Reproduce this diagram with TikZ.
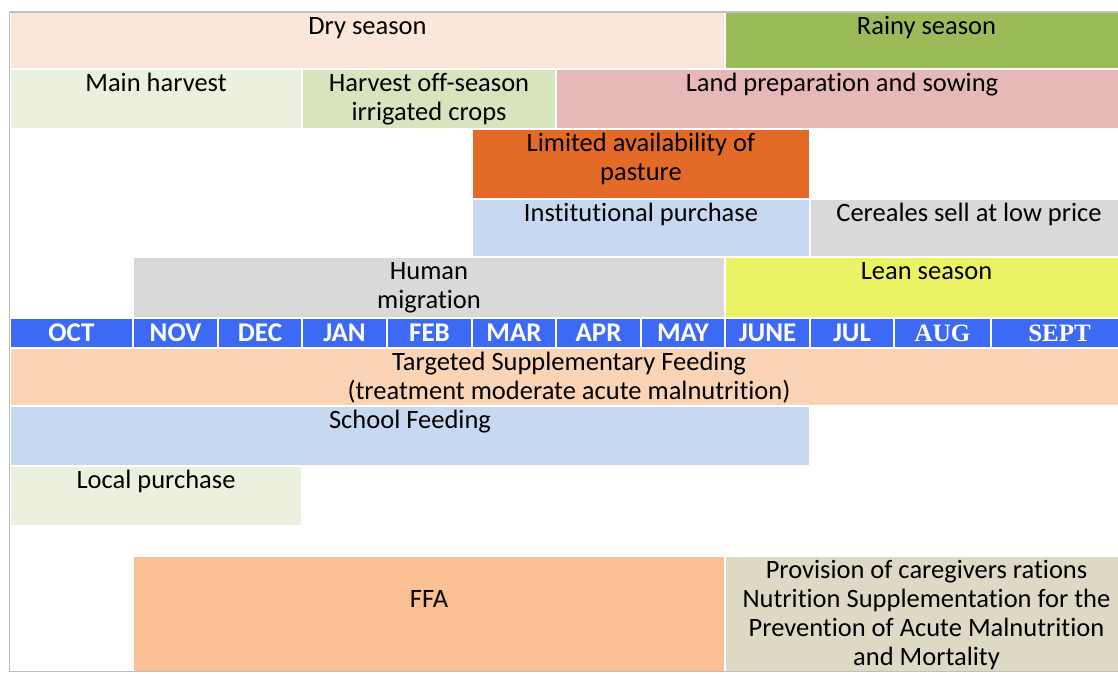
\documentclass[tikz,border=0pt]{standalone}
\usepackage{fontspec}
\setmainfont{Carlito}[Ligatures=NoCommon]
\newfontfamily\serifmonth{Liberation Serif}
\pgfdeclarelayer{celllayer}
\pgfdeclarelayer{textlayer}
\pgfsetlayers{celllayer,main,textlayer}
\definecolor{dryseason}{HTML}{FBE6D9}
\definecolor{rainyseason}{HTML}{9BBB59}
\definecolor{mainharvest}{HTML}{EBF1DE}
\definecolor{offseason}{HTML}{D7E4BD}
\definecolor{landprep}{HTML}{E6B8B7}
\definecolor{pasture}{HTML}{E46A27}
\definecolor{purchase}{HTML}{C6D9F0}
\definecolor{greycell}{HTML}{D9D9D9}
\definecolor{leanseason}{HTML}{EAF363}
\definecolor{monthblue}{HTML}{3D6AF5}
\definecolor{tsf}{HTML}{FBD4B6}
\definecolor{ffa}{HTML}{FABF93}
\definecolor{caregiver}{HTML}{DDD9C4}
\tikzstyle{cell}=[rectangle,anchor=north west,draw=white,line width=1.5pt,inner sep=0pt,outer sep=0pt]
\tikzstyle{celltext}=[anchor=north,align=center,inner sep=0pt,yshift=-2pt,text=black,font=\fontsize{26.5}{29}\selectfont]
\tikzstyle{month}=[style=cell,fill=monthblue,text=white,minimum height=30,font=\fontsize{27}{29}\selectfont\bfseries]
\tikzstyle{serif month}=[style=month,font=\fontsize{25}{29}\selectfont\serifmonth\bfseries]
\tikzstyle{frame}=[draw=black!25,line width=1.5pt]

\begin{document}
\begin{tikzpicture}[x=1pt,y=-1pt]
	\useasboundingbox (0,0) rectangle (1118,673);
	\clip (0,0) rectangle (1118,673);
	\begin{pgfonlayer}{celllayer}
		% seasons and field work
		\node [style=cell, fill=dryseason, minimum width=715, minimum height=57] (0) at (10, 12) {};
		\node [style=cell, fill=rainyseason, minimum width=403, minimum height=57] (1) at (725, 12) {};
		\node [style=cell, fill=mainharvest, minimum width=292, minimum height=60] (2) at (10, 69) {};
		\node [style=cell, fill=offseason, minimum width=254, minimum height=60] (3) at (302, 69) {};
		\node [style=cell, fill=landprep, minimum width=572, minimum height=60] (4) at (556, 69) {};
		\node [style=cell, fill=pasture, minimum width=338, minimum height=70] (5) at (472, 129) {};
		\node [style=cell, fill=purchase, minimum width=338, minimum height=58] (6) at (472, 199) {};
		\node [style=cell, fill=greycell, minimum width=318, minimum height=58] (7) at (810, 199) {};
		\node [style=cell, fill=greycell, minimum width=592, minimum height=61] (8) at (133, 257) {};
		\node [style=cell, fill=leanseason, minimum width=403, minimum height=61] (9) at (725, 257) {};
		% programme activities
		\node [style=cell, fill=tsf, minimum width=1118, minimum height=58] (10) at (10, 348) {};
		\node [style=cell, fill=purchase, minimum width=800, minimum height=60] (11) at (10, 406) {};
		\node [style=cell, fill=mainharvest, minimum width=292, minimum height=60] (12) at (10, 466) {};
		\node [style=cell, fill=ffa, minimum width=592, minimum height=116] (13) at (133, 556) {};
		\node [style=cell, fill=caregiver, minimum width=403, minimum height=116] (14) at (725, 556) {};
		% months
		\node [style=month, minimum width=123] (15) at (10, 318) {OCT};
		\node [style=month, minimum width=85] (16) at (133, 318) {NOV};
		\node [style=month, minimum width=84] (17) at (218, 318) {DEC};
		\node [style=month, minimum width=85] (18) at (302, 318) {JAN};
		\node [style=month, minimum width=85] (19) at (387, 318) {FEB};
		\node [style=month, minimum width=84] (20) at (472, 318) {MAR};
		\node [style=month, minimum width=85] (21) at (556, 318) {APR};
		\node [style=month, minimum width=84] (22) at (641, 318) {MAY};
		\node [style=month, minimum width=85] (23) at (725, 318) {JUNE};
		\node [style=month, minimum width=84] (24) at (810, 318) {JUL};
		\node [style=serif month, minimum width=97] (25) at (894, 318) {AUG};
		\node [style=serif month, minimum width=137] (26) at (991, 318) {SEPT};
	\end{pgfonlayer}
	\draw [style=frame] (9.5, 671.5) -- (9.5, 12) -- (1128, 12);
	\draw [style=frame] (9.5, 671.5) -- (1128, 671.5);
	\begin{pgfonlayer}{textlayer}
		\node [style=celltext] (30) at (0.north) {\strut Dry season};
		\node [style=celltext] (31) at (1.north) {\strut Rainy season};
		\node [style=celltext] (32) at (2.north) {\strut Main harvest};
		\node [style=celltext] (33) at (3.north) {\strut Harvest off-season\\irrigated crops};
		\node [style=celltext] (34) at (4.north) {\strut Land preparation and sowing};
		\node [style=celltext] (35) at (5.north) {\strut Limited availability of\\pasture};
		\node [style=celltext] (36) at (6.north) {\strut Institutional purchase};
		\node [style=celltext] (37) at (7.north) {\strut Cereales sell at low price};
		\node [style=celltext] (38) at (8.north) {\strut Human\\migration};
		\node [style=celltext] (39) at (9.north) {\strut Lean season};
		\node [style=celltext] (40) at (10.north) {\strut Targeted Supplementary Feeding\\(treatment moderate acute malnutrition)};
		\node [style=celltext] (41) at (11.north) {\strut School Feeding};
		\node [style=celltext] (42) at (12.north) {\strut Local purchase};
		\node [style=celltext, yshift=-29pt] (43) at (13.north) {\strut FFA};
		\node [style=celltext] (44) at (14.north) {\strut Provision of caregivers rations\\Nutrition Supplementation for the\\Prevention of Acute Malnutrition\\and Mortality};
	\end{pgfonlayer}
\end{tikzpicture}
\end{document}
